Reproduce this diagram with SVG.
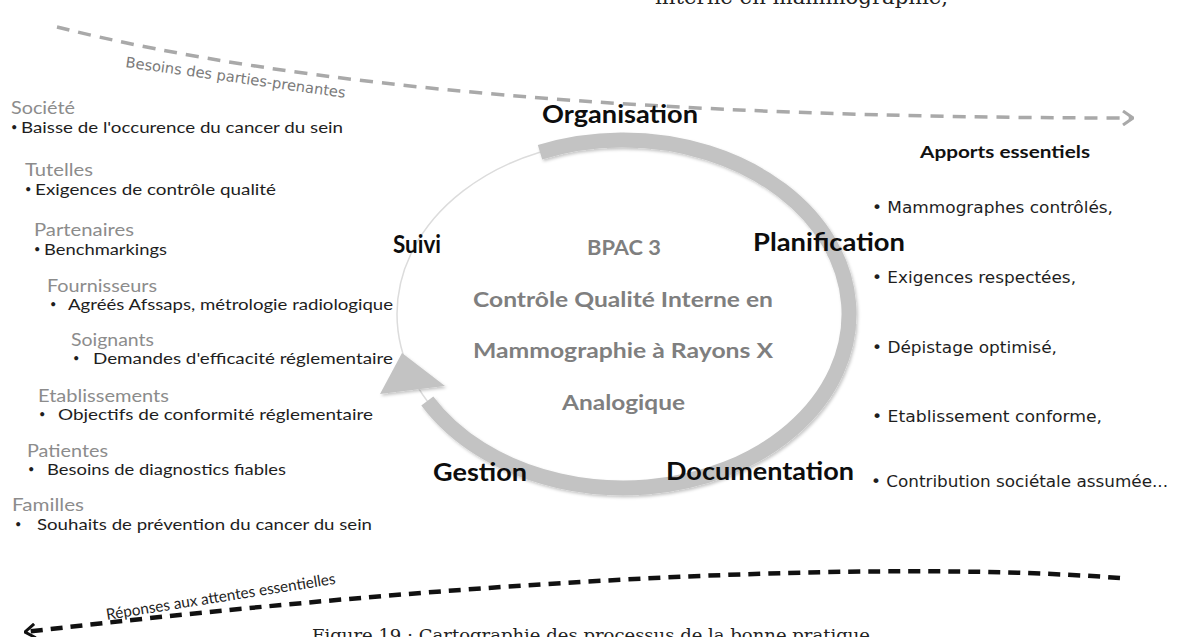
<svg xmlns="http://www.w3.org/2000/svg" width="1181" height="637" viewBox="0 0 1181 637">
  <defs>
    <style>
      .cat{font-family:Lato,"Open Sans",sans-serif;font-size:18px;fill:#8c8c8c}
      .item{font-family:Lato,"Open Sans",sans-serif;font-size:16px;fill:#1e1e1e}
      .dot{font-family:Lato,"Open Sans",sans-serif;font-size:11px;fill:#1e1e1e}
      .step{font-family:Lato,"Open Sans",sans-serif;font-size:24px;font-weight:bold;fill:#0d0d0d}
      .title{font-family:Lato,"Open Sans",sans-serif;font-size:21px;font-weight:bold;fill:#7f7f7f}
      .out{font-family:"DejaVu Sans",sans-serif;font-size:16px;fill:#1e1e1e}
      .head{font-family:Lato,"Open Sans",sans-serif;font-size:17px;font-weight:bold;fill:#111}
      .page{font-family:"DejaVu Serif","Liberation Serif",serif;fill:#222}
      .flow-in{fill:none;stroke:#a9a9a9;stroke-width:3.5;stroke-dasharray:13 9}
      .flow-out{fill:none;stroke:#111;stroke-width:4.5;stroke-dasharray:12 8}
      .lbl-in{font-family:"DejaVu Sans",sans-serif;font-size:14.5px;fill:#7a7a7a}
      .lbl-out{font-family:Lato,"Open Sans",sans-serif;font-size:15.5px;fill:#1e1e1e}
    </style>
    <marker id="chev-grey" viewBox="0 0 12 16" refX="11" refY="8" markerWidth="12" markerHeight="16" markerUnits="userSpaceOnUse" orient="auto">
      <path d="M1,1 L11,8 L1,15" fill="none" stroke="#a9a9a9" stroke-width="3"/>
    </marker>
    <marker id="chev-black" viewBox="0 0 12 16" refX="11" refY="8" markerWidth="12" markerHeight="16" markerUnits="userSpaceOnUse" orient="auto">
      <path d="M1,1 L11,8 L1,15" fill="none" stroke="#111" stroke-width="3"/>
    </marker>
    <filter id="soft" x="-10%" y="-10%" width="120%" height="120%">
      <feDropShadow dx="1.5" dy="2" stdDeviation="1.5" flood-color="#000" flood-opacity="0.22"/>
    </filter>
  </defs>

  <rect width="1181" height="637" fill="#fff"/>

  <!-- running text of the page, clipped by the frame -->
  <text class="page" x="655" y="4" font-size="20" textLength="293" lengthAdjust="spacingAndGlyphs">interne en mammographie,</text>
  <text class="page" x="312" y="641" font-size="17.5" textLength="558" lengthAdjust="spacingAndGlyphs">Figure 19 : Cartographie des processus de la bonne pratique</text>

  <!-- connectors: stakeholder needs in, answers out -->
  <g id="connectors">
    <path class="flow-in" d="M57 27 Q420 118 1133 118" marker-end="url(#chev-grey)"/>
    <text class="lbl-in" x="125" y="67" transform="rotate(8 125 67)" textLength="222" lengthAdjust="spacingAndGlyphs">Besoins des parties-prenantes</text>
    <path class="flow-out" d="M1120 578 C950 565 600 565 25 632" marker-end="url(#chev-black)"/>
    <text class="lbl-out" x="107" y="620" transform="rotate(-9 107 620)" textLength="232" lengthAdjust="spacingAndGlyphs">Réponses aux attentes essentielles</text>
  </g>

  <!-- process cycle -->
  <g id="cycle">
    <ellipse cx="623" cy="314" rx="226" ry="174" fill="none" stroke="#dcdcdc" stroke-width="1.5"/>
    <g filter="url(#soft)" fill="#c3c3c3">
      <path d="M540 152.2 A226 174 0 1 1 427.3 401" fill="none" stroke="#c3c3c3" stroke-width="15"/>
      <polygon points="380,394 445,386 402,353"/>
    </g>
  </g>

  <g id="cycle-title">
    <text class="title" x="587" y="255" textLength="74" lengthAdjust="spacingAndGlyphs">BPAC 3</text>
    <text class="title" x="473" y="307" textLength="300" lengthAdjust="spacingAndGlyphs">Contrôle Qualité Interne en</text>
    <text class="title" x="473" y="358" textLength="300" lengthAdjust="spacingAndGlyphs">Mammographie à Rayons X</text>
    <text class="title" x="562" y="410" textLength="123" lengthAdjust="spacingAndGlyphs">Analogique</text>
  </g>

  <g id="step-organisation"><text class="step" x="542" y="123" textLength="156" lengthAdjust="spacingAndGlyphs">Organisation</text></g>
  <g id="step-planification"><text class="step" x="753" y="251" textLength="152" lengthAdjust="spacingAndGlyphs">Planification</text></g>
  <g id="step-documentation"><text class="step" x="666" y="480" textLength="188" lengthAdjust="spacingAndGlyphs">Documentation</text></g>
  <g id="step-gestion"><text class="step" x="433" y="481" textLength="94" lengthAdjust="spacingAndGlyphs">Gestion</text></g>
  <g id="step-suivi"><text class="step" x="393" y="253" textLength="48" lengthAdjust="spacingAndGlyphs">Suivi</text></g>

  <!-- stakeholders -->
  <g id="stakeholders">
    <g id="societe">
      <text class="cat" x="11" y="114" textLength="64" lengthAdjust="spacingAndGlyphs">Société</text>
      <text class="dot" x="11" y="131">•</text>
      <text class="item" x="21" y="133" textLength="322" lengthAdjust="spacingAndGlyphs">Baisse de l'occurence du cancer du sein</text>
    </g>
    <g id="tutelles">
      <text class="cat" x="25" y="176" textLength="68" lengthAdjust="spacingAndGlyphs">Tutelles</text>
      <text class="dot" x="25" y="193">•</text>
      <text class="item" x="35" y="195" textLength="241" lengthAdjust="spacingAndGlyphs">Exigences de contrôle qualité</text>
    </g>
    <g id="partenaires">
      <text class="cat" x="34" y="236" textLength="100" lengthAdjust="spacingAndGlyphs">Partenaires</text>
      <text class="dot" x="34" y="253">•</text>
      <text class="item" x="44" y="255" textLength="123" lengthAdjust="spacingAndGlyphs">Benchmarkings</text>
    </g>
    <g id="fournisseurs">
      <text class="cat" x="47" y="292" textLength="110" lengthAdjust="spacingAndGlyphs">Fournisseurs</text>
      <text class="dot" x="50" y="308">•</text>
      <text class="item" x="68" y="310" textLength="325" lengthAdjust="spacingAndGlyphs">Agréés Afssaps, métrologie radiologique</text>
    </g>
    <g id="soignants">
      <text class="cat" x="71" y="346" textLength="83" lengthAdjust="spacingAndGlyphs">Soignants</text>
      <text class="dot" x="73" y="362">•</text>
      <text class="item" x="93" y="364" textLength="300" lengthAdjust="spacingAndGlyphs">Demandes d'efficacité réglementaire</text>
    </g>
    <g id="etablissements">
      <text class="cat" x="38" y="402" textLength="131" lengthAdjust="spacingAndGlyphs">Etablissements</text>
      <text class="dot" x="39" y="418">•</text>
      <text class="item" x="58" y="420" textLength="315" lengthAdjust="spacingAndGlyphs">Objectifs de conformité réglementaire</text>
    </g>
    <g id="patientes">
      <text class="cat" x="27" y="457" textLength="81" lengthAdjust="spacingAndGlyphs">Patientes</text>
      <text class="dot" x="28" y="473">•</text>
      <text class="item" x="47" y="475" textLength="239" lengthAdjust="spacingAndGlyphs">Besoins de diagnostics fiables</text>
    </g>
    <g id="familles">
      <text class="cat" x="12" y="511" textLength="72" lengthAdjust="spacingAndGlyphs">Familles</text>
      <text class="dot" x="15" y="528">•</text>
      <text class="item" x="37" y="530" textLength="335" lengthAdjust="spacingAndGlyphs">Souhaits de prévention du cancer du sein</text>
    </g>
  </g>

  <!-- key outputs -->
  <g id="apports">
    <text class="head" x="920" y="158" textLength="170" lengthAdjust="spacingAndGlyphs">Apports essentiels</text>
    <text class="out" x="872" y="213" textLength="241" lengthAdjust="spacingAndGlyphs">• Mammographes contrôlés,</text>
    <text class="out" x="872" y="283" textLength="204" lengthAdjust="spacingAndGlyphs">• Exigences respectées,</text>
    <text class="out" x="872" y="353" textLength="185" lengthAdjust="spacingAndGlyphs">• Dépistage optimisé,</text>
    <text class="out" x="872" y="422" textLength="230" lengthAdjust="spacingAndGlyphs">• Etablissement conforme,</text>
    <text class="out" x="871" y="487" textLength="297" lengthAdjust="spacingAndGlyphs">• Contribution sociétale assumée...</text>
  </g>
</svg>
